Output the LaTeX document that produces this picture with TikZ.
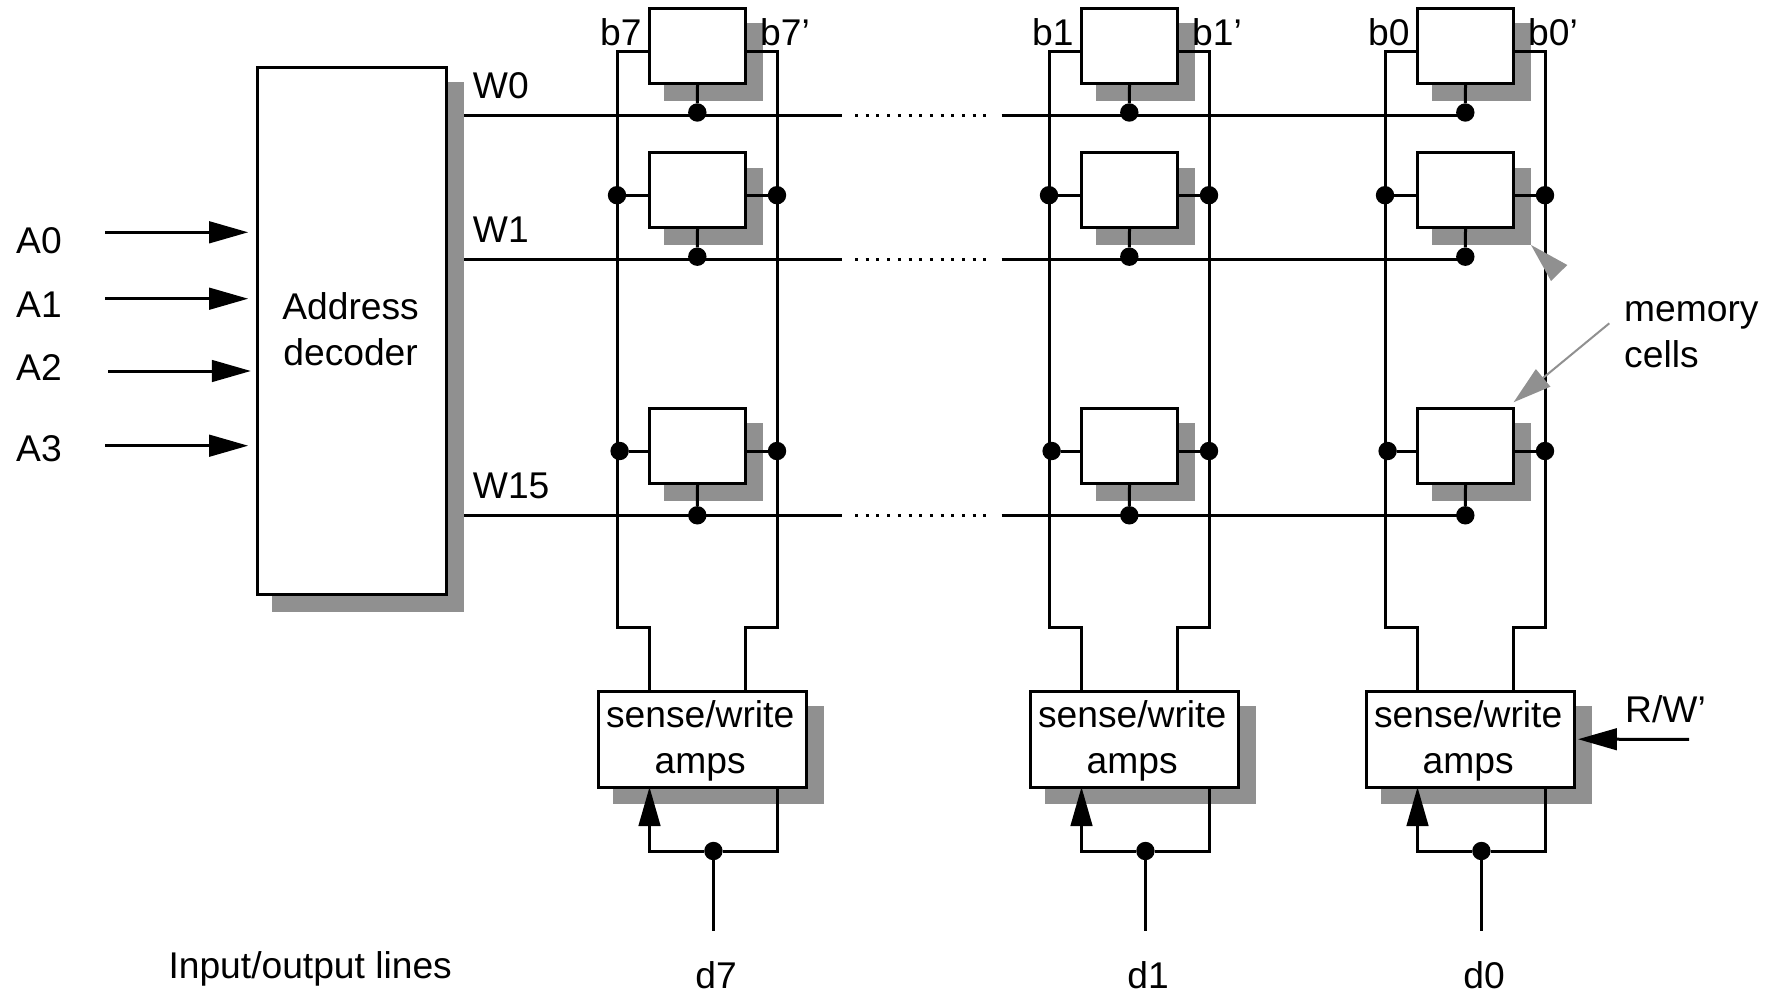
\documentclass[tikz,border=0pt]{standalone}
\usepackage{fontspec}
\setmainfont{Liberation Sans}
\usepackage{xcolor}
\usepackage{tikz}
\usetikzlibrary{arrows.meta, shadows, positioning, calc}
\definecolor{shadowgray}{RGB}{144,144,144}
\tikzset{every node/.append style={align=center}}
\tikzset{
  lbl/.style={font=\fontsize{37.2}{46}\selectfont, inner sep=0pt},
  shadowed/.style={drop shadow={shadow xshift=16.2pt, shadow yshift=-16.1pt, fill=shadowgray,
    draw=shadowgray, line width=2.4pt, opacity=1}},
  decbox/.style={rectangle, draw, fill=white, line width=3pt, shadowed,
    minimum width=189.2pt, minimum height=527.5pt},
  cell/.style={rectangle, draw, fill=white, line width=3pt, shadowed,
    minimum width=96.2pt, minimum height=74.7pt, inner sep=0pt},
  ampbox/.style={rectangle, draw, fill=white, line width=3pt, shadowed,
    minimum width=208.5pt, minimum height=95.8pt},
  dot/.style={circle, fill=black, minimum size=18.4pt, inner sep=0pt},
  wire/.style={line width=3pt},
  dotted wire/.style={line width=3pt, dash pattern=on 3pt off 7.7pt},
  feed/.style={wire, -{Triangle[length=39pt, width=21.5pt]}},
  memline/.style={line width=2pt, shadowgray, -{Triangle[length=38.4pt, width=22.3pt]}}
}
\begin{document}
\begin{tikzpicture}[x=1pt, y=-1pt]
  \useasboundingbox (0,0) rectangle (1776,991);
  \node[decbox] (dec) at (352,330.9) {};
  \node[lbl, anchor=base] (dectext) at (350.6,365) {Address\\decoder};
  % address inputs
  \foreach \ay/\by/\sx/\tip/\n in {232.3/253.7/105/7.7/0, 298.7/317.7/105/7.7/1, 371/380.5/108/5/2, 445.7/461.7/105/7.7/3} {
    \node[lbl, anchor=base west] (lA\n) at (16,\by) {A\n};
    \coordinate (in\n) at (\sx,\ay);
    \draw[feed, shorten >=\tip pt] (in\n) -- (in\n -| dec.west);
  }
  % columns
  \foreach \cx/\col in {649/7, 1081/1, 1417/0} {
    \node[ampbox] (a\col) at (\cx+53.6,739.2) {};
    \node[lbl, anchor=base] (at\col) at (\cx+51.2,773) {sense/write\\amps};
    \foreach \cy/\dy/\row in {45.9/112.5/0, 190.1/256.7/1, 445.9/515.3/15} {
      \node[cell] (c\col-\row) at (\cx+48.5,\cy) {};
      \node[dot] (m\col-\row) at (\cx+48.3,\dy) {};
      \draw[wire] (c\col-\row.south) -- (m\col-\row);
    }
    % bit lines
    \coordinate (tl\col) at (\cx-32,51);
    \coordinate (tr\col) at (\cx+128,51);
    \coordinate (bl\col) at (\cx-32,627);
    \coordinate (br\col) at (\cx+128,627);
    \coordinate (el\col) at (\cx,691);
    \coordinate (er\col) at (\cx+96.5,691);
    \draw[wire] (c\col-0.west |- tl\col) -- (tl\col) -- (bl\col) -| (el\col);
    \draw[wire] (c\col-0.east |- tr\col) -- (tr\col) -- (br\col) -| (er\col);
    \foreach \cy/\sh/\row in {195.2/0/1, 451/2.6/15} {
      \node[dot] (dl\col-\row) at (\cx-32+\sh,\cy) {};
      \node[dot] (dr\col-\row) at (\cx+128,\cy) {};
      \draw[wire] (dl\col-\row) -- (c\col-\row.west |- dl\col-\row);
      \draw[wire] (dr\col-\row) -- (c\col-\row.east |- dr\col-\row);
    }
    % data loop
    \node[dot] (j\col) at (\cx+64.4,851) {};
    \coordinate (dend\col) at (\cx+64.4,931);
    \coordinate (lp\col) at (\cx+128,851);
    \coordinate (tip\col) at (\cx+.5,787);
    \draw[wire] (j\col) -- (dend\col);
    \draw[wire] (j\col) -- (lp\col) -- (a\col.south -| lp\col);
    \draw[feed] (j\col) -| (tip\col);
    \node[lbl, anchor=base west] (b\col) at (\cx-49,45) {b\col};
    \node[lbl, anchor=base west] (bn\col) at (\cx+111,45) {b\col’};
    \node[lbl, anchor=base] (d\col) at (\cx+67,988.5) {d\col};
  }
  % word lines
  \foreach \wy/\row in {115/0, 259.3/1, 515.3/15} {
    \coordinate (ws\row) at (464,\wy);
    \coordinate (gl\row) at (841.5,\wy);
    \coordinate (gr\row) at (1001.7,\wy);
    \coordinate (pl\row) at (855,\wy);
    \coordinate (pr\row) at (987,\wy);
    \draw[wire] (ws\row) -- (gl\row);
    \draw[dotted wire] (pl\row) -- (pr\row);
    \draw[wire] (gr\row) -- (m0-\row.center |- gr\row);
    \node[lbl, anchor=base west] (w\row) at (472.7,\wy-17) {W\row};
  }
  \node[lbl, anchor=base] (io) at (310.2,978.5) {Input/output lines};
  \node[lbl, anchor=base west] (rw) at (1625,722) {R/W’};
  \coordinate (rwin) at (1689,739.3);
  \draw[feed] (rwin) -- ([xshift=1.6pt]a0.east);
  % memory cell pointers
  \node[lbl, anchor=base west, align=left] (mem) at (1624,367.3) {memory\\cells};
  \coordinate (memtail) at (1609.3,323.3);
  \coordinate (memtip) at (1513.5,402.3);
  \draw[memline] (memtail) -- (memtip);
  \fill[shadowgray] (1531,245) -- (1567.3,265) -- (1551,281) -- cycle;
\end{tikzpicture}
\end{document}
